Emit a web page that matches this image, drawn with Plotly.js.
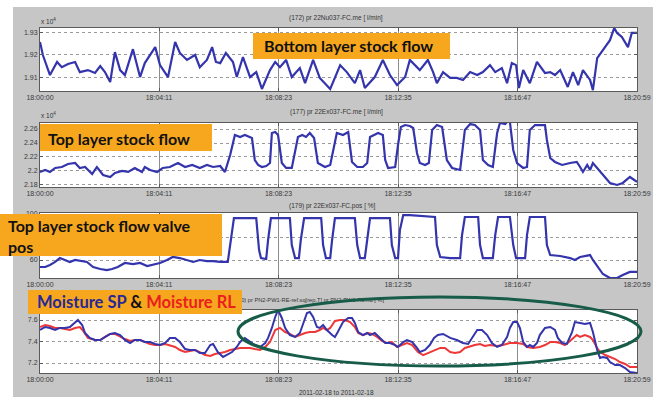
<!DOCTYPE html>
<html><head><meta charset="utf-8">
<script src="https://cdn.plot.ly/plotly-3.0.1.min.js"></script>
<style>html,body{margin:0;padding:0;background:#fff;}#chart{width:653px;height:397px;}</style>
</head><body><div id="chart"></div>
<script>
// ---- data (seconds after 18:00:00) ----
const tickSeconds = [0,251,503,755,1007,1259];
const tickLabels = ["18:00:00","18:04:11","18:08:23","18:12:35","18:16:47","18:20:59"];
const valveTickVals = [60, 80, 100];
const valveTickText = ["60", "", "100"];

const bottomTime = [0,6,21,36,46,59,74,84,101,116,127,137,148,158,169,179,196,211,221,243,253,270,285,295,310,327,337,352,363,371,380,392,407,415,428,443,456,468,485,496,506,519,531,548,559,576,590,612,633,647,664,675,685,706,723,738,753,770,780,791,801,818,829,837,850,865,879,892,907,922,934,949,960,974,985,995,1004,1010,1019,1033,1048,1065,1076,1086,1097,1113,1124,1135,1145,1160,1166,1175,1187,1202,1211,1217,1227,1240,1248,1259];
const bottomFlow = [1.9256,1.9198,1.9109,1.9167,1.9144,1.9158,1.9167,1.9122,1.9131,1.9118,1.9149,1.9122,1.9078,1.9211,1.9131,1.9109,1.9224,1.9100,1.9162,1.9233,1.9153,1.9100,1.9256,1.9207,1.9176,1.9198,1.9144,1.9176,1.9233,1.9167,1.9162,1.9207,1.9167,1.9100,1.9189,1.9100,1.9122,1.9047,1.9131,1.9167,1.9144,1.9176,1.9100,1.9140,1.9073,1.9176,1.9096,1.9047,1.9153,1.9122,1.9073,1.9131,1.9051,1.9100,1.9176,1.9109,1.9064,1.9100,1.9176,1.9153,1.9131,1.9176,1.9122,1.9073,1.9122,1.9096,1.9096,1.9087,1.9122,1.9109,1.9122,1.9153,1.9122,1.9140,1.9073,1.9162,1.9153,1.9051,1.9131,1.9073,1.9167,1.9118,1.9122,1.9109,1.9131,1.9056,1.9122,1.9064,1.9131,1.9087,1.9042,1.9184,1.9220,1.9264,1.9318,1.9296,1.9278,1.9233,1.9296,1.9296];

const topTime = [0,11,21,32,46,59,74,84,95,110,120,133,148,158,173,186,200,215,221,232,247,259,274,291,306,321,337,352,365,380,390,401,411,422,432,447,453,460,468,477,485,489,496,502,510,519,531,538,544,553,561,569,578,586,601,612,618,626,639,650,658,669,681,690,696,706,713,723,728,734,749,755,761,770,780,787,795,801,812,820,827,837,848,858,869,886,896,907,917,928,934,945,955,964,970,981,985,991,998,1006,1019,1027,1033,1044,1065,1069,1076,1086,1101,1118,1132,1139,1145,1154,1160,1166,1175,1181,1192,1202,1217,1229,1244,1255,1259];
const topFlow = [2.1986,2.2014,2.1986,2.2043,2.2057,2.2100,2.2114,2.2043,2.2057,2.1957,2.2057,2.1943,2.1914,2.1971,2.2000,2.1986,2.2043,2.1986,2.2057,2.2014,2.1986,2.2043,2.2057,2.2114,2.2057,2.2086,2.2043,2.2086,2.2057,2.2071,2.1986,2.2229,2.2514,2.2486,2.2514,2.2471,2.2157,2.2086,2.2057,2.2071,2.2114,2.2543,2.2557,2.2514,2.2114,2.2043,2.2043,2.2300,2.2486,2.2514,2.2486,2.2543,2.2471,2.2114,2.2057,2.2086,2.2300,2.2543,2.2514,2.2557,2.2129,2.2057,2.2057,2.2114,2.2486,2.2514,2.2543,2.2514,2.2157,2.2043,2.2057,2.2371,2.2629,2.2657,2.2643,2.2614,2.2257,2.2114,2.2086,2.2114,2.2586,2.2657,2.2629,2.2157,2.2043,2.2014,2.2586,2.2671,2.2657,2.2586,2.2157,2.2086,2.2057,2.2543,2.2686,2.2671,2.2700,2.2700,2.2300,2.2114,2.2043,2.2057,2.2586,2.2657,2.2657,2.2443,2.2186,2.2129,2.2086,2.2114,2.2129,2.2057,2.1986,2.2086,2.2014,2.2114,2.2043,2.1986,2.1900,2.1829,2.1800,2.1829,2.1914,2.1871,2.1843];

const valveTime = [0,11,21,32,42,53,63,74,84,99,112,127,141,152,164,179,196,211,226,238,253,268,280,295,310,323,337,352,365,380,396,403,409,456,462,466,477,481,487,527,531,538,546,550,557,593,597,603,612,616,622,664,669,675,685,690,696,738,742,749,755,759,766,780,822,833,837,844,865,886,890,896,924,928,934,955,960,966,991,998,1004,1023,1027,1033,1065,1069,1076,1097,1118,1128,1139,1154,1160,1166,1177,1187,1202,1217,1229,1244,1259];
const valvePos = [53.9,53.9,55.7,58.3,61.7,60.0,58.3,60.0,59.1,58.3,53.9,52.2,51.3,52.2,53.9,57.4,56.5,57.4,54.8,55.7,57.4,60.0,62.6,61.7,60.0,58.3,60.0,59.1,59.1,58.3,58.3,77.4,96.5,96.5,68.7,61.7,60.9,77.4,96.5,96.5,73.0,61.7,61.7,77.4,96.5,96.5,73.0,61.7,61.7,77.4,96.5,96.5,73.0,61.7,61.7,77.4,96.5,96.5,73.0,61.7,61.7,86.1,99.1,99.1,97.4,97.4,73.0,62.6,61.7,61.7,81.7,97.4,97.4,73.0,61.7,61.7,81.7,97.4,97.4,73.0,61.7,61.7,81.7,97.4,97.4,73.0,64.3,63.5,61.7,60.0,62.6,63.5,64.3,60.0,53.0,47.8,44.3,44.3,47.0,49.6,49.6];

const spTime = [0,11,21,32,42,53,63,74,80,89,95,105,116,127,137,148,158,169,179,190,200,211,221,232,243,253,264,274,285,295,306,316,327,337,348,359,365,375,386,394,405,415,422,432,443,453,464,475,481,489,496,502,510,517,527,538,548,555,563,569,576,584,590,597,605,616,622,628,639,650,658,664,671,681,690,696,706,717,728,738,749,755,766,774,785,795,801,812,822,831,839,850,865,879,892,903,913,922,932,943,953,964,974,985,991,998,1006,1012,1019,1027,1033,1040,1048,1054,1065,1076,1086,1092,1101,1111,1122,1128,1139,1149,1160,1166,1175,1181,1187,1196,1202,1213,1223,1234,1244,1259];
const moistureSP = [7.507,7.535,7.526,7.507,7.526,7.526,7.535,7.581,7.600,7.553,7.479,7.433,7.414,7.414,7.442,7.470,7.479,7.460,7.414,7.386,7.414,7.414,7.395,7.395,7.377,7.367,7.386,7.433,7.433,7.395,7.330,7.321,7.321,7.293,7.293,7.367,7.377,7.302,7.256,7.274,7.302,7.349,7.395,7.433,7.395,7.367,7.349,7.386,7.433,7.526,7.628,7.693,7.619,7.526,7.460,7.442,7.479,7.572,7.665,7.674,7.628,7.535,7.526,7.553,7.507,7.460,7.442,7.488,7.581,7.619,7.619,7.572,7.488,7.460,7.479,7.460,7.479,7.433,7.386,7.386,7.367,7.349,7.395,7.414,7.395,7.340,7.302,7.321,7.367,7.433,7.460,7.470,7.433,7.414,7.386,7.377,7.442,7.507,7.507,7.460,7.386,7.349,7.367,7.442,7.526,7.581,7.581,7.526,7.395,7.349,7.367,7.349,7.386,7.460,7.526,7.535,7.507,7.433,7.386,7.377,7.488,7.581,7.572,7.563,7.572,7.488,7.321,7.247,7.256,7.247,7.209,7.181,7.181,7.153,7.116,7.107];

const rlTime = [0,11,21,32,42,53,63,74,84,91,101,116,127,137,148,158,169,179,190,200,211,221,232,243,253,264,274,285,295,306,316,327,337,348,359,369,380,390,401,411,422,432,443,453,464,475,485,496,506,517,527,538,548,559,569,580,590,597,605,612,622,633,643,654,664,671,681,692,700,711,721,732,742,753,763,774,785,797,808,818,829,844,854,865,875,886,896,907,917,928,938,949,964,976,991,1006,1019,1027,1040,1054,1065,1076,1086,1097,1107,1113,1124,1132,1139,1149,1160,1166,1175,1181,1192,1202,1213,1223,1234,1244,1259];
const moistureRL = [7.535,7.553,7.544,7.526,7.526,7.516,7.507,7.526,7.535,7.498,7.433,7.414,7.414,7.442,7.470,7.470,7.442,7.423,7.405,7.414,7.414,7.395,7.377,7.367,7.367,7.377,7.367,7.349,7.321,7.302,7.312,7.321,7.302,7.274,7.265,7.284,7.293,7.302,7.321,7.330,7.340,7.340,7.340,7.330,7.321,7.349,7.395,7.507,7.526,7.488,7.470,7.442,7.460,7.479,7.488,7.488,7.507,7.526,7.507,7.526,7.591,7.600,7.600,7.581,7.535,7.479,7.460,7.479,7.470,7.442,7.405,7.386,7.395,7.349,7.367,7.386,7.367,7.302,7.274,7.293,7.312,7.340,7.340,7.302,7.293,7.302,7.340,7.358,7.367,7.377,7.358,7.367,7.358,7.367,7.386,7.386,7.377,7.349,7.340,7.349,7.367,7.395,7.395,7.386,7.367,7.386,7.433,7.460,7.442,7.460,7.442,7.414,7.340,7.302,7.274,7.256,7.237,7.209,7.191,7.163,7.163];

// ---- layout helpers (pixel -> paper) ----
const W = 653, H = 397;
const px = x => x / W, py = y => 1 - y / H;
const BLUE = 'rgb(52,52,172)', RED = 'rgb(238,56,56)', ORANGE = 'rgb(247,167,30)';
const tickFont = {family: 'Liberation Sans', size: 7, color: '#3a3a3a'};

function xAxis(anchor) {
  return {domain: [px(40), px(637)], anchor: anchor, range: [0, 1259],
    tickmode: 'array', tickvals: tickSeconds, ticktext: tickLabels,
    showgrid: true, gridcolor: '#8c8c8c', gridwidth: 1, zeroline: false,
    showline: true, mirror: 'allticks', linecolor: '#5a5a5a', linewidth: 1,
    ticks: 'inside', ticklen: 3, tickcolor: '#5a5a5a', tickfont: tickFont, fixedrange: true};
}
function yAxis(anchor, top, bottom, range, vals, text) {
  const a = {domain: [py(bottom), py(top)], anchor: anchor, range: range,
    tickmode: 'array', tickvals: vals,
    showgrid: true, gridcolor: '#9a9a9a', griddash: 'dot', gridwidth: 1, zeroline: false,
    showline: true, mirror: 'allticks', linecolor: '#5a5a5a', linewidth: 1,
    ticks: 'inside', ticklen: 3, tickcolor: '#5a5a5a', tickfont: tickFont, fixedrange: true};
  if (text) a.ticktext = text;
  return a;
}

const traces = [
  {x: bottomTime, y: bottomFlow, xaxis: 'x', yaxis: 'y', mode: 'lines', line: {color: BLUE, width: 2.2}},
  {x: topTime, y: topFlow, xaxis: 'x2', yaxis: 'y2', mode: 'lines', line: {color: BLUE, width: 2.2}},
  {x: valveTime, y: valvePos, xaxis: 'x3', yaxis: 'y3', mode: 'lines', line: {color: BLUE, width: 2.2}},
  {x: rlTime, y: moistureRL, xaxis: 'x4', yaxis: 'y4', mode: 'lines', line: {color: RED, width: 2}},
  {x: spTime, y: moistureSP, xaxis: 'x4', yaxis: 'y4', mode: 'lines', line: {color: BLUE, width: 2}}
];

const smallFont = {family: 'Liberation Sans', size: 6.5, color: '#333'};
const boxFont = {family: 'Lato', size: 16, color: '#111'};
function note(text, x, y, extra) {
  return Object.assign({text: text, x: px(x), y: py(y), xref: 'paper', yref: 'paper',
    showarrow: false, font: smallFont, xanchor: 'center', yanchor: 'middle'}, extra || {});
}
function rect(x0, y0, x1, y1, fill, layer) {
  return {type: 'rect', xref: 'paper', yref: 'paper', x0: px(x0), x1: px(x1), y0: py(y1), y1: py(y0),
    fillcolor: fill, line: {width: 0}, layer: layer || 'above'};
}

const layout = {
  width: W, height: H, margin: {l: 0, r: 0, t: 0, b: 0},
  paper_bgcolor: 'rgb(198,198,198)', plot_bgcolor: '#ffffff', showlegend: false,
  xaxis: xAxis('y'), yaxis: yAxis('x', 28, 91, [1.9038, 1.9318], [1.91, 1.92, 1.93]),
  xaxis2: xAxis('y2'), yaxis2: yAxis('x2', 123, 187, [2.1771, 2.2686], [2.18, 2.2, 2.22, 2.24, 2.26]),
  xaxis3: xAxis('y3'), yaxis3: yAxis('x3', 213, 278, [44.35, 100.87], valveTickVals, valveTickText),
  xaxis4: xAxis('y4'), yaxis4: yAxis('x4', 310, 373, [7.107, 7.693], [7.2, 7.4, 7.6]),
  shapes: [
    rect(0, 0, 653, 7, '#ffffff', 'below'),
    rect(0, 0, 13, 397, '#ffffff', 'below'),
    Object.assign(rect(150, 293, 387, 305, 'rgba(0,0,0,0)'), {label: {text: '(180) pr PN2-PW1-RE-ref.sq[rep.T] pr PN2-PW1-RL.hd [ %]', textposition: 'middle right', padding: 0, font: {family: 'Liberation Sans', size: 5.7, color: '#333'}}}),
    rect(253, 33, 450, 59, ORANGE),
    rect(40, 124, 212, 151, ORANGE),
    rect(0, 214, 222, 256, ORANGE),
    rect(28, 290, 242, 314, ORANGE),
    {type: 'circle', xref: 'paper', yref: 'paper', x0: px(238), x1: px(641), y0: py(366), y1: py(297),
      line: {color: 'rgb(22,92,72)', width: 3}, layer: 'above'}
  ],
  annotations: [
    note('(172) pr 22Nu037-FC.me [ l/min]', 336, 18),
    note('(177) pr 22Ex037-FC.me [ l/min]', 336, 112),
    note('(179) pr 22Ex037-FC.pos [ %]', 332, 206),
    note('x 10<sup>4</sup>', 39, 21, {xanchor: 'left'}),
    note('x 10<sup>4</sup>', 39, 115, {xanchor: 'left'}),
    note('2011-02-18 to 2011-02-18', 336, 392),
    note('<b>Bottom layer stock flow</b>', 348, 46, {font: boxFont}),
    note('<b>Top layer stock flow</b>', 119, 138, {font: boxFont}),
    note('<b>Top layer stock flow valve<br>pos</b>', 6, 236, {font: boxFont, xanchor: 'left', align: 'left'}),
    note('<b><span style="color:rgb(40,40,150)">Moisture SP</span> &amp; <span style="color:rgb(235,30,30)">Moisture RL</span></b>', 35, 302, {font: Object.assign({}, boxFont, {size: 16.5}), xanchor: 'left'})
  ]
};

Plotly.newPlot('chart', traces, layout, {staticPlot: true, displayModeBar: false});
</script>
</body></html>
